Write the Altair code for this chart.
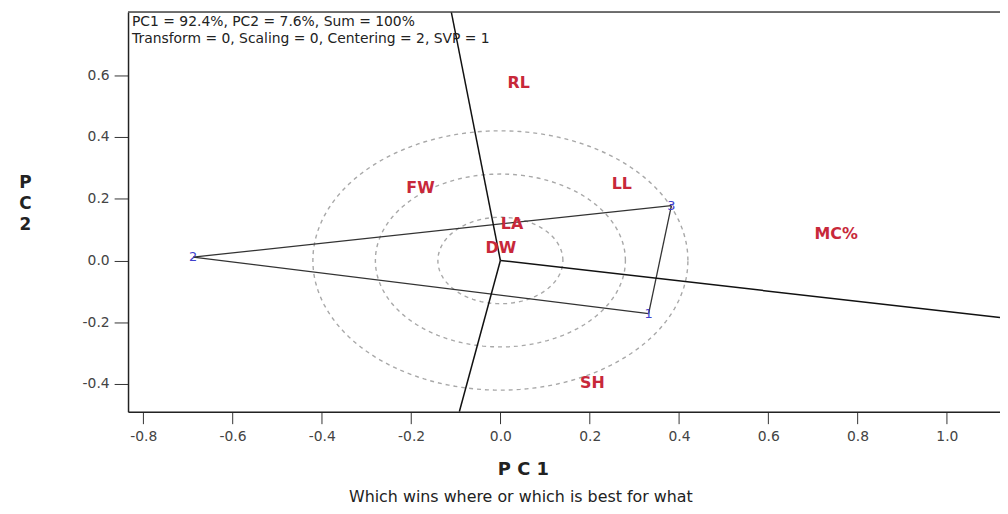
import altair as alt
import numpy as np
import pandas as pd

# ---- data ----
genotypes = ["1", "2", "3"]
geno_x = [0.332, -0.688, 0.383]
geno_y = [-0.172, 0.011, 0.178]

traits = ["RL", "FW", "LL", "LA", "DW", "MC%", "SH"]
trait_x = [0.041, -0.179, 0.272, 0.026, 0.001, 0.752, 0.206]
trait_y = [0.574, 0.236, 0.249, 0.117, 0.040, 0.085, -0.397]

# polygon (convex hull) order of genotypes
hull = ["2", "3", "1"]
# sector rays from the origin: end points where they leave the plot
ray_end_x = [-0.110, -0.092, 1.119]
ray_end_y = [0.805, -0.490, -0.185]
circle_radii = [0.14, 0.28, 0.42]

x_ticks = [-0.8, -0.6, -0.4, -0.2, 0.0, 0.2, 0.4, 0.6, 0.8, 1.0]
y_ticks = [-0.4, -0.2, 0.0, 0.2, 0.4, 0.6]
x_dom = [-0.834, 1.119]
y_dom = [-0.49, 0.805]

info1 = "PC1 = 92.4%, PC2 = 7.6%, Sum = 100%"
info2 = "Transform = 0, Scaling = 0, Centering = 2, SVP = 1"
subtitle = "Which wins where or which is best for what"

W, H = 879, 403
FONT = "DejaVu Sans"

# ---- derived tables ----
gx = dict(zip(genotypes, geno_x))
gy = dict(zip(genotypes, geno_y))
sides = []
for i in range(len(hull)):
    a, b = hull[i], hull[(i + 1) % len(hull)]
    sides.append({"x": gx[a], "y": gy[a], "x2": gx[b], "y2": gy[b]})
sides_df = pd.DataFrame(sides)
rays_df = pd.DataFrame({"x": [0.0] * 3, "y": [0.0] * 3, "x2": ray_end_x, "y2": ray_end_y})

ang = np.linspace(0, 2 * np.pi, 181)
circ_rows = []
for r in circle_radii:
    for j, a in enumerate(ang):
        circ_rows.append({"r": r, "i": j, "x": r * np.cos(a), "y": r * np.sin(a)})
circ_df = pd.DataFrame(circ_rows)

geno_df = pd.DataFrame({"g": genotypes, "x": geno_x, "y": geno_y})
trait_df = pd.DataFrame({"t": traits, "x": trait_x, "y": trait_y})

lab = "replace(format(datum.value, '.1f'), '\u2212', '-')"
xs = alt.Scale(domain=x_dom, nice=False, zero=False)
ys = alt.Scale(domain=y_dom, nice=False, zero=False)
xax = alt.Axis(values=x_ticks, labelExpr=lab, grid=False, tickSize=12, labelPadding=6,
               labelFontSize=14, labelColor="#444", labelFont=FONT, tickColor="#333",
               domainColor="#222", domainWidth=1.5, title="P C 1", titleX=398, titleY=58,
               titleFontSize=18, titleFontWeight="bold", titleFont=FONT, titleColor="#222",
               titleAlign="center", titleBaseline="middle", labelFlush=False)
yax = alt.Axis(values=y_ticks, labelExpr=lab, grid=False, tickSize=14, labelPadding=5,
               labelFontSize=14, labelColor="#444", labelFont=FONT, tickColor="#333",
               domainColor="#222", domainWidth=1.5, title=["P", "C", "2"], titleAngle=0,
               titleX=-104, titleY=172, titleFontSize=17, titleFontWeight="bold",
               titleFont=FONT, titleColor="#222", titleAlign="center",
               titleBaseline="middle", titleLineHeight=21, labelFlush=False)

circles = alt.Chart(circ_df).mark_line(clip=True, color="#a8a8a8", strokeWidth=1.4,
                                       strokeDash=[4, 4]).encode(
    x=alt.X("x:Q", scale=xs, axis=xax),
    y=alt.Y("y:Q", scale=ys, axis=yax),
    detail="r:N", order="i:Q")

side_rules = alt.Chart(sides_df).mark_rule(clip=True, color="#333", strokeWidth=1.3).encode(
    x="x:Q", y="y:Q", x2="x2:Q", y2="y2:Q")
ray_rules = alt.Chart(rays_df).mark_rule(clip=True, color="#111", strokeWidth=1.5).encode(
    x="x:Q", y="y:Q", x2="x2:Q", y2="y2:Q")

geno_text = alt.Chart(geno_df).mark_text(font=FONT, fontSize=13, color="#4040cc").encode(
    x="x:Q", y="y:Q", text="g:N")
trait_text = alt.Chart(trait_df).mark_text(font=FONT, fontSize=16, fontWeight="bold",
                                           color="#c8283a").encode(
    x="x:Q", y="y:Q", text="t:N")

top_rule = alt.Chart(pd.DataFrame({"a": [0]})).mark_rule(color="#444", strokeWidth=1.5).encode(
    x=alt.value(0), x2=alt.value(W), y=alt.value(0))

info_df = pd.DataFrame({"s": [info1, info2], "py": [10, 27]})
info = alt.Chart(info_df).mark_text(font=FONT, fontSize=14, color="#222", align="left",
                                    baseline="middle").encode(
    x=alt.value(4), y=alt.Y("py:Q", scale=None), text="s:N")

sub = alt.Chart(pd.DataFrame({"s": [subtitle]})).mark_text(
    font=FONT, fontSize=16, color="#222", align="center", baseline="alphabetic").encode(
    x=alt.value(396), y=alt.value(494), text="s:N")

chart = alt.layer(circles, side_rules, ray_rules, geno_text, trait_text, top_rule, info, sub).properties(
    width=W, height=H,
    autosize=alt.AutoSizeParams(type="none"),
    padding={"left": 121, "top": 2, "right": 0, "bottom": 93},
).configure_view(stroke=None).configure(background="white")

chart.save("out.html", embed_options={"renderer": "svg", "actions": False})
